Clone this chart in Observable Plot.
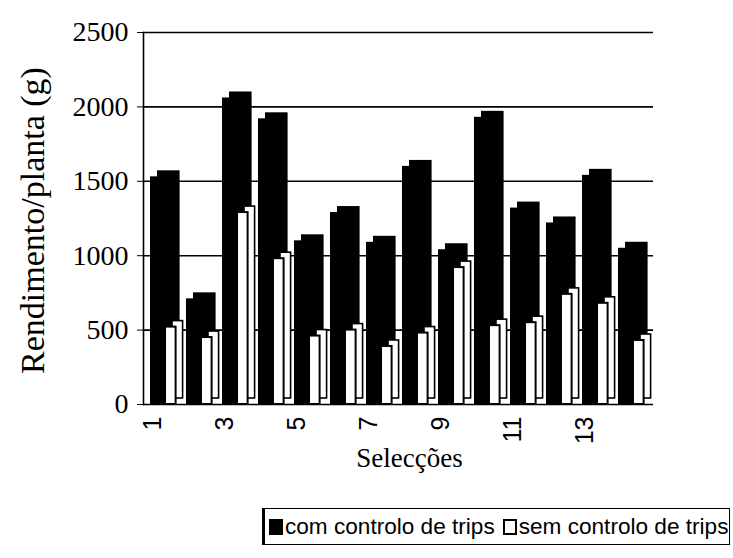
<!DOCTYPE html>
<html>
<head>
<meta charset="utf-8">
<script src="https://cdn.jsdelivr.net/npm/d3@7"></script>
<script src="https://cdn.jsdelivr.net/npm/@observablehq/plot@0.6"></script>
<style>
  html, body { margin: 0; padding: 0; background: white; }
  #wrap { position: relative; width: 733px; height: 558px; background: white; }
  #legend {
    position: absolute; left: 262px; top: 508px; width: 468px; height: 37px;
    border: 1.5px solid black; border-left: 3px solid black; box-sizing: border-box;
    font-family: "Liberation Sans", Arial, sans-serif; font-size: 22.6px; color: black;
    display: flex; align-items: center; padding-left: 4px; white-space: nowrap;
  }
  .sw { display: inline-block; width: 14px; height: 16px; box-sizing: border-box; margin-right: 2px; }
  .sw.black { background: black; }
  .sw.white { background: white; border: 2.5px solid black; margin-left: 8px; }
  .xt text { font-family: "Liberation Sans", Arial, sans-serif; }
</style>
</head>
<body>
<div id="wrap">
  <div id="chart"></div>
  <div id="legend"></div>
</div>
<script>
const selections = [1, 2, 3, 4, 5, 6, 7, 8, 9, 10, 11, 12, 13, 14];
const comControlo = [1530, 710, 2060, 1920, 1100, 1290, 1090, 1600, 1040, 1930, 1320, 1220, 1540, 1050];
const semControlo = [520, 450, 1290, 980, 460, 500, 390, 480, 920, 530, 550, 740, 680, 430];
const seriesNames = ["com controlo de trips", "sem controlo de trips"];
const xTickLabels = [1, 3, 5, 7, 9, 11, 13];
const yTicks = [0, 500, 1000, 1500, 2000, 2500];
const yTitle = "Rendimento/planta (g)";
const xTitle = "Selecções";

const data = selections.map((s, i) => ({sel: s, com: comControlo[i], sem: semControlo[i]}));

const DX = 7, DY = -6;

const chart = Plot.plot({
  width: 733,
  height: 490,
  marginLeft: 143,
  marginRight: 80,
  marginTop: 32,
  marginBottom: 86,
  style: {fontFamily: "'Liberation Serif', 'Times New Roman', serif", fontSize: "28px", color: "black", background: "white", overflow: "visible"},
  x: {type: "band", domain: selections, padding: 0},
  y: {domain: [0, 2500]},
  marks: [
    Plot.ruleY(yTicks.slice(1), {stroke: "black", strokeWidth: 1.6}),
    // black series: back face then front face
    Plot.barY(data, {x: "sel", y: "com", fill: "black", insetLeft: 4, insetRight: 9.4, dx: DX, dy: DY}),
    Plot.barY(data, {x: "sel", y: "com", fill: "black", insetLeft: 4, insetRight: 9.4}),
    // white series: back face then front face
    Plot.barY(data, {x: "sel", y: "sem", fill: "white", stroke: "black", strokeWidth: 1.6, insetLeft: 19, insetRight: 6.4, dx: DX, dy: DY}),
    Plot.barY(data, {x: "sel", y: "sem", fill: "white", stroke: "black", strokeWidth: 2, insetLeft: 19, insetRight: 6.4}),
    Plot.ruleY([0], {stroke: "black", strokeWidth: 1.6}),
    Plot.frame({anchor: "left", stroke: "black", strokeWidth: 1.6}),
    Plot.axisY({ticks: yTicks, tickFormat: d3.format("d"), tickSize: 6, tickPadding: 9, label: null, fontSize: 28}),
    Plot.text([yTitle], {frameAnchor: "left", textAnchor: "middle", rotate: -90, dx: -110, dy: 2, fontSize: 34, fill: "black"}),
    Plot.axisX({ticks: xTickLabels, tickSize: 0, tickRotate: -90, tickPadding: 12, dx: -12, label: null, fontSize: 25, className: "xt"}),
    Plot.text([xTitle], {frameAnchor: "bottom", dy: 62, dx: 11, fontSize: 27, fill: "black"})
  ]
});

document.getElementById("chart").appendChild(chart);

const legend = document.getElementById("legend");
legend.innerHTML =
  '<span class="sw black"></span><span>' + seriesNames[0] + '</span>' +
  '<span class="sw white"></span><span>' + seriesNames[1] + '</span>';
</script>
</body>
</html>
